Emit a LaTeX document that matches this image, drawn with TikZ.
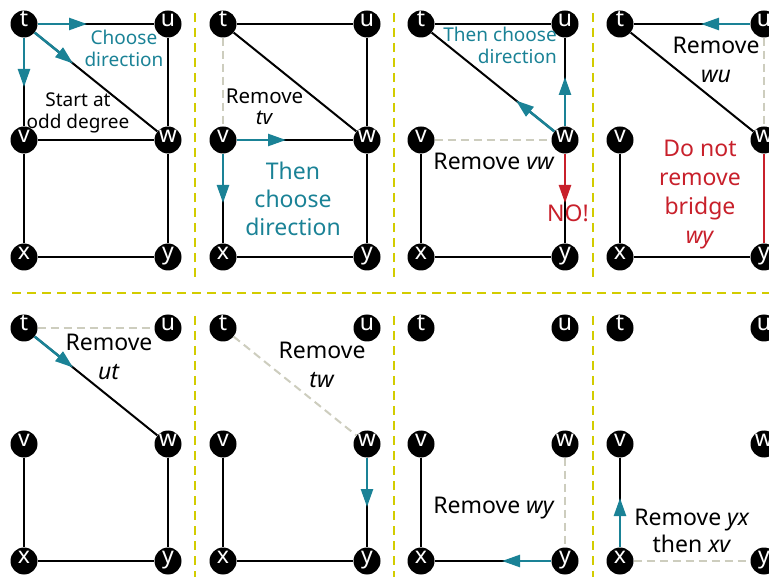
\documentclass[tikz,border=0pt]{standalone}
\usepackage{fontspec}
\setmainfont{Noto Sans}
\usetikzlibrary{arrows.meta,calc}
\definecolor{tealc}{HTML}{1A8296}
\definecolor{redc}{HTML}{C8202B}
\definecolor{gonec}{HTML}{CDCDBE}
\definecolor{sepc}{HTML}{D2CC00}
\tikzset{
 vtx/.style={circle,fill=black,minimum size=27pt,inner sep=0pt,text=white,
   font=\fontsize{23}{23}\selectfont,text height=0.55em,text depth=0pt},
 ed/.style={line width=2pt,black},
 gone/.style={line width=2pt,gonec,dash pattern=on 8pt off 5pt},
 sepline/.style={line width=2pt,sepc,dash pattern=on 9pt off 6pt},
 arr/.style={line width=2.5pt,-{Triangle[length=18pt,width=12pt]}},
 small/.style={align=center,inner sep=0pt,font=\fontsize{19}{22}\selectfont},
 big/.style={align=center,inner sep=0pt,font=\fontsize{23}{29}\selectfont},
}
\newcommand\sixnodes{%
 \node[vtx] (t) at (24,24) {t};
 \node[vtx] (u) at (168,24) {u};
 \node[vtx] (v) at (24,140) {v};
 \node[vtx] (w) at (168,140) {w};
 \node[vtx] (x) at (24,257) {x};
 \node[vtx] (y) at (168,257) {y};
}
\newcommand\tarr[3]{\draw[arr,#1] (#2) -- ($(#2)!63pt!(#3)$);}
\begin{document}
\begin{tikzpicture}[x=1pt,y=-1pt]
\useasboundingbox (0,0) rectangle (769,577);
% separators
\coordinate (s1a) at (195,13); \coordinate (s1b) at (195,280);
\coordinate (s2a) at (394,13); \coordinate (s2b) at (394,280);
\coordinate (s3a) at (593,13); \coordinate (s3b) at (593,280);
\coordinate (s4a) at (195,316); \coordinate (s4b) at (195,577);
\coordinate (s5a) at (394,316); \coordinate (s5b) at (394,577);
\coordinate (s6a) at (593,316); \coordinate (s6b) at (593,577);
\coordinate (hza) at (12,293); \coordinate (hzb) at (769,293);
\draw[sepline] (s1a) -- (s1b);
\draw[sepline] (s2a) -- (s2b);
\draw[sepline] (s3a) -- (s3b);
\draw[sepline] (s4a) -- (s4b);
\draw[sepline] (s5a) -- (s5b);
\draw[sepline] (s6a) -- (s6b);
\draw[sepline] (hza) -- (hzb);
% panel 1
\begin{scope}[shift={(0,0)},name prefix=pa-]
 \sixnodes
 \draw[ed] (t) -- (u); \draw[ed] (t) -- (v); \draw[ed] (t) -- (w);
 \draw[ed] (u) -- (w); \draw[ed] (v) -- (w); \draw[ed] (v) -- (x);
 \draw[ed] (w) -- (y); \draw[ed] (x) -- (y);
 \tarr{tealc}{t}{u} \tarr{tealc}{t}{v} \tarr{tealc}{t}{w}
 \node[small,text=tealc] (l1) at (124,48) {Choose\\direction};
 \node[small] (l2) at (78,113) {Start at\\odd degree};
\end{scope}
% panel 2
\begin{scope}[shift={(199,0)},name prefix=pb-]
 \sixnodes
 \draw[ed] (t) -- (u); \draw[gone] (t) -- (v); \draw[ed] (t) -- (w);
 \draw[ed] (u) -- (w); \draw[ed] (v) -- (w); \draw[ed] (v) -- (x);
 \draw[ed] (w) -- (y); \draw[ed] (x) -- (y);
 \tarr{tealc}{v}{w} \tarr{tealc}{v}{x}
 \node[small,font=\fontsize{20.5}{21}\selectfont] (l1) at (65.5,107) {Remove\\\textit{tv}};
 \node[big,text=tealc,font=\fontsize{23}{28}\selectfont] (l2) at (94,199) {Then\\choose\\direction};
\end{scope}
% panel 3
\begin{scope}[shift={(397,0)},name prefix=pc-]
 \sixnodes
 \draw[ed] (t) -- (u); \draw[ed] (t) -- (w);
 \draw[ed] (u) -- (w); \draw[gone] (v) -- (w); \draw[ed] (v) -- (x);
 \draw[ed] (w) -- (y); \draw[ed] (x) -- (y);
 \tarr{tealc}{w}{u} \tarr{tealc}{w}{t} \tarr{redc}{w}{y}
 \node[small,align=right,text=tealc,anchor=east] (l1) at (160,45) {Then choose\\direction};
 \node[big] (l2) at (97,161) {Remove \textit{vw}};
 \node[big,text=redc] (l3) at (171,213) {NO!};
\end{scope}
% panel 4
\begin{scope}[shift={(596,0)},name prefix=pd-]
 \sixnodes
 \draw[ed] (t) -- (u); \draw[ed] (t) -- (w);
 \draw[gone] (u) -- (w); \draw[ed] (v) -- (x);
 \draw[ed,redc] (w) -- (y); \draw[ed] (x) -- (y);
 \tarr{tealc}{u}{t}
 \node[big] (l1) at (120,59.5) {Remove\\\textit{wu}};
 \node[big,text=redc] (l2) at (104,195) {Do not\\remove\\bridge\\\textit{wy}};
\end{scope}
% panel 5
\begin{scope}[shift={(0,304)},name prefix=pe-]
 \sixnodes
 \draw[gone] (t) -- (u); \draw[ed] (t) -- (w);
 \draw[ed] (v) -- (x); \draw[ed] (w) -- (y); \draw[ed] (x) -- (y);
 \tarr{tealc}{t}{w}
 \node[big] (l1) at (109,53) {Remove\\\textit{ut}};
\end{scope}
% panel 6
\begin{scope}[shift={(199,304)},name prefix=pf-]
 \sixnodes
 \draw[gone] (t) -- (w);
 \draw[ed] (v) -- (x); \draw[ed] (w) -- (y); \draw[ed] (x) -- (y);
 \tarr{tealc}{w}{y}
 \node[big] (l1) at (123,61) {Remove\\\textit{tw}};
\end{scope}
% panel 7
\begin{scope}[shift={(397,304)},name prefix=pg-]
 \sixnodes
 \draw[ed] (v) -- (x); \draw[gone] (w) -- (y); \draw[ed] (x) -- (y);
 \tarr{tealc}{y}{x}
 \node[big] (l1) at (97,204) {Remove \textit{wy}};
\end{scope}
% panel 8
\begin{scope}[shift={(596,304)},name prefix=ph-]
 \sixnodes
 \draw[ed] (v) -- (x); \draw[gone] (x) -- (y);
 \tarr{tealc}{x}{v}
 \node[big,font=\fontsize{23}{27}\selectfont] (l1) at (96,227) {Remove \textit{yx}\\then \textit{xv}};
\end{scope}
\end{tikzpicture}
\end{document}
